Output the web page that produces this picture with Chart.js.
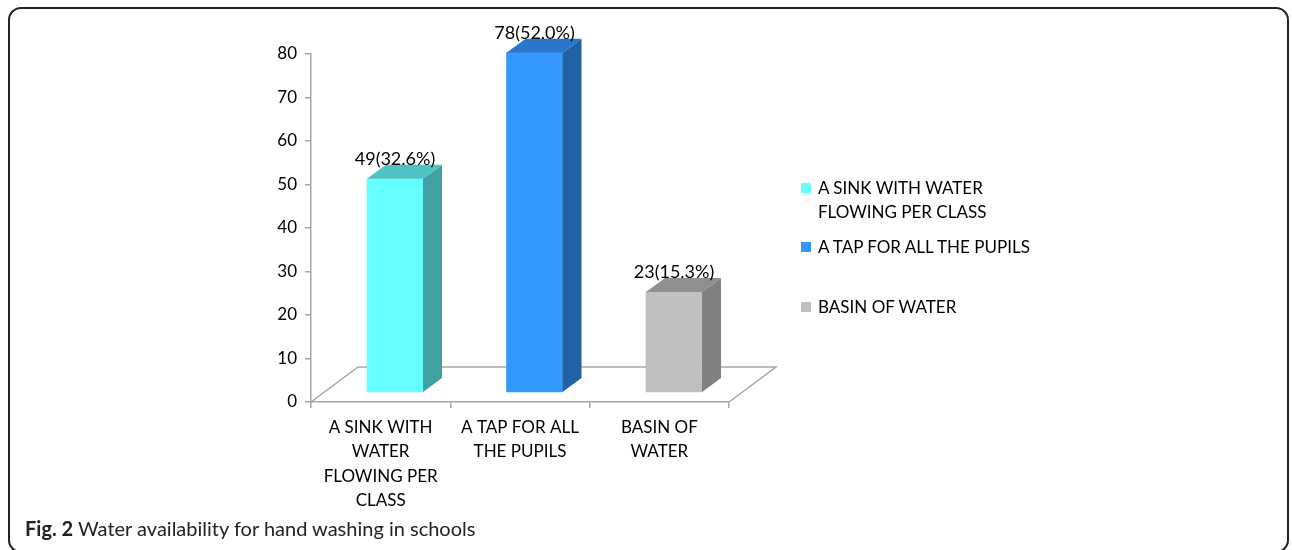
<!DOCTYPE html>
<html lang="en">
<head>
    <meta charset="UTF-8">
    <title>Water availability for hand washing in schools</title>
    <script src="https://cdn.jsdelivr.net/npm/chart.js"></script>
    <style>
        body { margin: 0; background: #fff; font-family: Lato, "Open Sans", sans-serif; }
        #wrap { position: relative; width: 1292px; height: 550px; overflow: hidden; }
        #frame { position: absolute; left: 8px; top: 7px; width: 1281px; height: 546px;
                 border: 2px solid #222; border-radius: 13px; box-sizing: border-box; }
        canvas { position: absolute; left: 0; top: 0; }
        .leg { position: absolute; left: 801px; font-size: 17px; line-height: 24px; color: #000; }
        .leg span { position: absolute; left: 0; top: 7px; width: 10px; height: 10px; }
        .leg div { margin-left: 17px; white-space: nowrap; }
        #caption { position: absolute; left: 25px; top: 516px; font-size: 20px; color: #222; }
    </style>
</head>
<body>
<div id="wrap">
    <div id="frame"></div>
    <canvas id="chart" width="1292" height="550"></canvas>
    <div id="legend"></div>
    <div id="caption"><b>Fig. 2</b> Water availability for hand washing in schools</div>
</div>

<script>
    // data
    const categories = [
        ["A SINK WITH", "WATER", "FLOWING PER", "CLASS"],
        ["A TAP FOR ALL", "THE PUPILS"],
        ["BASIN OF", "WATER"]
    ];
    const legendLabels = [
        ["A SINK WITH WATER", "FLOWING PER CLASS"],
        ["A TAP FOR ALL THE PUPILS"],
        ["BASIN OF WATER"]
    ];
    const counts = [49, 78, 23];
    const percents = ["32.6", "52.0", "15.3"];
    const yTicks = [0, 10, 20, 30, 40, 50, 60, 70, 80];

    const frontColors = ["#66ffff", "#3399ff", "#c0c0c0"];
    const sideColors = ["#3fa1a1", "#2261a3", "#808080"];
    const topColors = ["#4fc3c3", "#2877cb", "#8f8f8f"];

    const axisColor = "#a6a6a6";
    const depthX = 19, depthY = 14;   // bar depth
    const floorX = 47, floorY = 35;   // floor depth
    const fontFamily = "Lato, 'Open Sans', sans-serif";

    // legend (html)
    const legendTops = [176, 235, 295];
    const legendEl = document.getElementById("legend");
    legendLabels.forEach((lines, i) => {
        const item = document.createElement("div");
        item.className = "leg";
        item.style.top = legendTops[i] + "px";
        item.innerHTML = `<span style="background:${frontColors[i]}"></span><div>${lines.join("<br>")}</div>`;
        legendEl.appendChild(item);
    });

    const floorPlugin = {
        id: "floor",
        beforeDatasetsDraw(chart) {
            const { ctx, chartArea } = chart;
            const b = chart.scales.y.getPixelForValue(0);
            const l = chartArea.left, r = chartArea.right;
            ctx.save();
            ctx.strokeStyle = axisColor;
            ctx.lineWidth = 1.5;
            ctx.beginPath();
            ctx.moveTo(l, b);
            ctx.lineTo(l + floorX, b - floorY);
            ctx.lineTo(r + floorX, b - floorY);
            ctx.lineTo(r, b);
            ctx.stroke();
            ctx.restore();
        }
    };

    const bar3dPlugin = {
        id: "bar3d",
        afterDatasetsDraw(chart) {
            const { ctx } = chart;
            const meta = chart.getDatasetMeta(0);
            ctx.save();
            meta.data.forEach((bar, i) => {
                const left = bar.x - bar.width / 2, right = bar.x + bar.width / 2;
                const top = bar.y, base = bar.base;
                // side
                ctx.fillStyle = sideColors[i];
                ctx.beginPath();
                ctx.moveTo(right, top);
                ctx.lineTo(right + depthX, top - depthY);
                ctx.lineTo(right + depthX, base - depthY);
                ctx.lineTo(right, base);
                ctx.closePath();
                ctx.fill();
                // top
                ctx.fillStyle = topColors[i];
                ctx.beginPath();
                ctx.moveTo(left, top);
                ctx.lineTo(left + depthX, top - depthY);
                ctx.lineTo(right + depthX, top - depthY);
                ctx.lineTo(right, top);
                ctx.closePath();
                ctx.fill();
                // value label
                ctx.fillStyle = "#000";
                ctx.font = "18px " + fontFamily;
                ctx.textAlign = "center";
                ctx.textBaseline = "middle";
                ctx.fillText(`${counts[i]}(${percents[i]}%)`, bar.x, top - 20);
            });
            ctx.restore();
        }
    };

    new Chart(document.getElementById("chart"), {
        type: "bar",
        data: {
            labels: categories,
            datasets: [{
                data: counts.map((v, i) => ({ x: i, y: v })),
                xAxisID: "x2",
                yAxisID: "y2",
                backgroundColor: frontColors,
                barThickness: 56,
                clip: false
            }]
        },
        options: {
            responsive: false,
            animation: false,
            devicePixelRatio: 1,
            layout: { padding: { left: 251, right: 563, top: 54, bottom: 28 } },
            plugins: { legend: { display: false }, tooltip: { enabled: false } },
            scales: {
                x: {
                    type: "category",
                    offset: true,
                    grid: { offset: true, drawOnChartArea: false, tickLength: 6, color: axisColor, lineWidth: 1.5 },
                    border: { color: axisColor, width: 1.5 },
                    ticks: { color: "#000", font: { family: fontFamily, size: 17, lineHeight: 1.44 }, padding: 7, maxRotation: 0, autoSkip: false },
                    afterFit(s) { s.height = 120; }
                },
                y: {
                    min: 0, max: 80,
                    afterBuildTicks(s) { s.ticks = yTicks.map(v => ({ value: v })); },
                    grid: { drawOnChartArea: false, tickLength: 6, color: axisColor, lineWidth: 1.5 },
                    border: { color: axisColor, width: 1.5 },
                    ticks: { color: "#000", font: { family: fontFamily, size: 17 }, padding: 8 },
                    afterFit(s) { s.width = 60; }
                },
                x2: { type: "linear", display: false, offset: false, min: -0.602, max: 2.394 },
                y2: { display: false, min: -2.3, max: 77.7 }
            }
        },
        plugins: [floorPlugin, bar3dPlugin]
    });
</script>
</body>
</html>
